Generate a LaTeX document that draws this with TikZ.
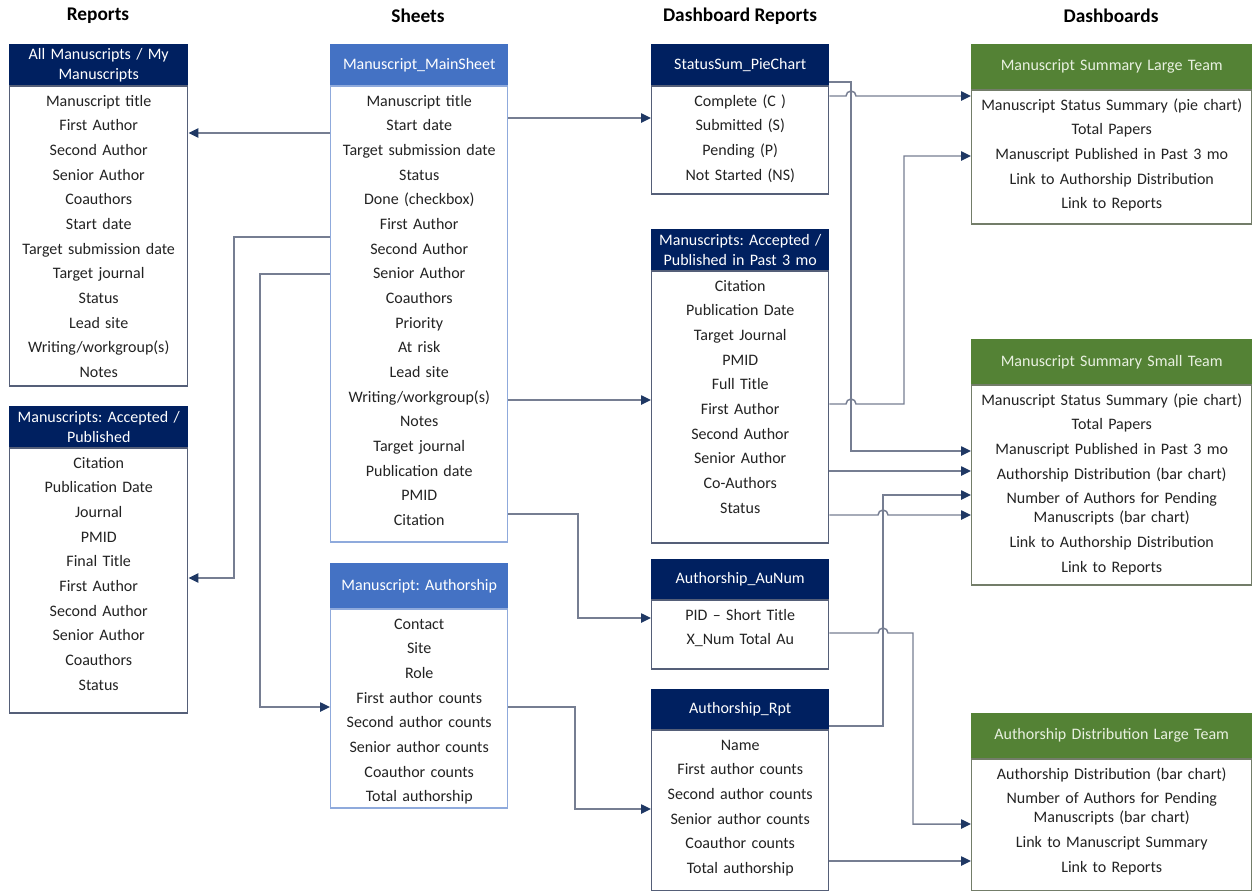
\documentclass[tikz,border=0pt]{standalone}
\usepackage{fontspec}
\setmainfont{Carlito}
\frenchspacing
\usetikzlibrary{arrows.meta}
\definecolor{navy}{RGB}{0,32,96}
\definecolor{sheetblue}{RGB}{68,114,196}
\definecolor{dgreen}{RGB}{84,130,53}
\definecolor{connc}{RGB}{118,126,146}
\definecolor{tipc}{RGB}{31,56,100}
\definecolor{brep}{RGB}{85,95,120}
\definecolor{bsheet}{RGB}{143,170,220}
\definecolor{bdash}{RGB}{115,125,105}
\definecolor{bodytext}{RGB}{35,35,35}
\tikzset{
  hdr/.style={inner sep=0pt, align=center, line width=1.1pt,
    font=\frenchspacing\fontsize{12pt}{15pt}\selectfont},
  bdy/.style={inner sep=0pt, line width=1.1pt, fill=white},
  txt/.style={inner sep=0pt, align=center, text=bodytext,
    font=\frenchspacing\fontsize{12pt}{18.5pt}\selectfont},
  hrep/.style={fill=navy, draw=navy, text=white},
  brepst/.style={draw=brep},
  hsheet/.style={fill=sheetblue, draw=sheetblue, text=white},
  bsheetst/.style={draw=bsheet},
  hdash/.style={fill=dgreen, draw=dgreen, text={rgb,255:red,232;green,240;blue,224}},
  bdashst/.style={draw=bdash},
  coltitle/.style={font=\bfseries\fontsize{14.5pt}{17pt}\selectfont, text=black},
  conn/.style={draw=connc, line width=1.1pt, -{Triangle[length=7.5pt,width=7pt,color=tipc]}},
}
% name, xleft, ytop, width, headH, bodyH, kind, header text, body text
\newcommand\tbl[9]{%
  \pgfmathsetlengthmacro\tblw{#4*0.75pt}%
  \pgfmathsetlengthmacro\tbltw{(#4-6)*0.75pt}%
  \pgfmathsetlengthmacro\tblhh{#5*0.75pt}%
  \pgfmathsetlengthmacro\tblbh{#6*0.75pt}%
  \node[hdr, h#7, minimum width=\tblw, minimum height=\tblhh, text width=\tbltw, anchor=north west] (#1H) at (#2,#3) {#8};
  \node[bdy, b#7st, minimum width=\tblw, minimum height=\tblbh, anchor=north west] (#1B) at (#1H.south west) {};
  \node[txt, text width=\tbltw, anchor=north] (#1T) at (#1B.north) {\rule{0pt}{15.4pt}#9};
}
\begin{document}
\begin{tikzpicture}[x=0.75pt, y=-0.75pt]
\useasboundingbox (0,0) rectangle (1252,890);

\node[coltitle] (t1) at (98,16) {Reports};
\node[coltitle] (t2) at (418,16) {Sheets};
\node[coltitle] (t3) at (740,16) {Dashboard Reports};
\node[coltitle] (t4) at (1111,16) {Dashboards};

\tbl{a}{9}{44}{178}{40}{300}{rep}{All Manuscripts / My\\Manuscripts}
{Manuscript title\\First Author\\Second Author\\Senior Author\\Coauthors\\Start date\\Target submission date\\Target journal\\Status\\Lead site\\Writing/workgroup(s)\\Notes}

\tbl{b}{9}{406}{178}{40}{265}{rep}{Manuscripts: Accepted /\\Published}
{Citation\\Publication Date\\Journal\\PMID\\Final Title\\First Author\\Second Author\\Senior Author\\Coauthors\\Status}

\tbl{main}{330}{44}{177}{40}{456}{sheet}{Manuscript\_MainSheet}
{Manuscript title\\Start date\\Target submission date\\Status\\Done (checkbox)\\First Author\\Second Author\\Senior Author\\Coauthors\\Priority\\At risk\\Lead site\\Writing/workgroup(s)\\Notes\\Target journal\\Publication date\\PMID\\Citation}

\tbl{auth}{330}{563}{177}{44}{199}{sheet}{Manuscript: Authorship}
{Contact\\Site\\Role\\First author counts\\Second author counts\\Senior author counts\\Coauthor counts\\Total authorship}

\tbl{pie}{651}{44}{177}{40}{108}{rep}{StatusSum\_PieChart}
{Complete (C )\\Submitted (S)\\Pending (P)\\Not Started (NS)}

\tbl{acc}{651}{229}{177}{40}{272}{rep}{Manuscripts: Accepted /\\Published in Past 3 mo}
{Citation\\Publication Date\\Target Journal\\PMID\\Full Title\\First Author\\Second Author\\Senior Author\\Co-Authors\\Status}

\tbl{aun}{651}{559}{177}{39}{69}{rep}{Authorship\_AuNum}
{PID – Short Title\\X\_Num Total Au}

\tbl{rpt}{651}{689}{177}{39}{161}{rep}{Authorship\_Rpt}
{Name\\First author counts\\Second author counts\\Senior author counts\\Coauthor counts\\Total authorship}

\tbl{lg}{971}{44}{280}{44}{134}{dash}{Manuscript Summary Large Team}
{Manuscript Status Summary (pie chart)\\Total Papers\\Manuscript Published in Past 3 mo\\Link to Authorship Distribution\\Link to Reports}

\tbl{sm}{971}{339}{280}{44}{200}{dash}{Manuscript Summary Small Team}
{Manuscript Status Summary (pie chart)\\Total Papers\\Manuscript Published in Past 3 mo\\Authorship Distribution (bar chart)\\Number of Authors for Pending\\[-4.25pt]Manuscripts (bar chart)\\Link to Authorship Distribution\\Link to Reports}

\tbl{ad}{971}{713}{280}{44}{132}{dash}{Authorship Distribution Large Team}
{Authorship Distribution (bar chart)\\Number of Authors for Pending\\[-4.25pt]Manuscripts (bar chart)\\Link to Manuscript Summary\\Link to Reports}

% left connectors
\draw[conn] (mainB.west |- 0,133) -- (aB.east |- 0,133);
\draw[conn] (mainB.west |- 0,237) -- (234,237) -- (234,578) -- (bB.east |- 0,578);
\draw[conn] (mainB.west |- 0,274) -- (260,274) -- (260,707) -- (authB.west |- 0,707);

% middle connectors
\draw[conn] (mainB.east |- 0,118) -- (pieB.west |- 0,118);
\draw[conn] (mainB.east |- 0,400) -- (accB.west |- 0,400);
\draw[conn] (mainB.east |- 0,514) -- (578,514) -- (578,618) -- (aunB.west |- 0,618);
\draw[conn] (authB.east |- 0,707) -- (575,707) -- (575,809) -- (rptB.west |- 0,809);

% right connectors
\draw[conn] (pieH.east |- 0,82) -- (851,82) -- (851,451) -- (smB.west |- 0,451);
\draw[conn] (pieB.east |- 0,96) -- (846,96) arc[start angle=180, end angle=0, radius=3.75pt] -- (lgB.west |- 0,96);
\draw[conn] (accB.east |- 0,404) -- (846,404) arc[start angle=180, end angle=0, radius=3.75pt] -- (904,404) -- (904,156) -- (lgB.west |- 0,156);
\draw[conn] (accB.east |- 0,471) -- (smB.west |- 0,471);
\draw[conn] (rptH.east |- 0,726) -- (883,726) -- (883,495) -- (smB.west |- 0,495);
\draw[conn] (accB.east |- 0,515) -- (878,515) arc[start angle=180, end angle=0, radius=3.75pt] -- (smB.west |- 0,515);
\draw[conn] (aunB.east |- 0,633) -- (878,633) arc[start angle=180, end angle=0, radius=3.75pt] -- (913,633) -- (913,824) -- (adB.west |- 0,824);
\draw[conn] (rptB.east |- 0,861) -- (adB.west |- 0,861);
\end{tikzpicture}
\end{document}
